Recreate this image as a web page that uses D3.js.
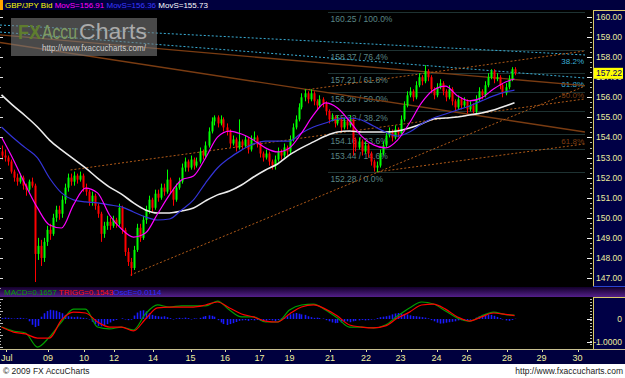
<!DOCTYPE html>
<html>
<head>
<meta charset="utf-8">
<script src="https://cdn.jsdelivr.net/npm/d3@7"></script>
<style>
body { margin: 0; background: #fff; }
svg { display: block; font-family: "Liberation Sans", Arial, sans-serif; }
</style>
</head>
<body>
<svg id="chart"></svg>
<script>
// GBP/JPY 2-hour bars, July 2009
const width = 625, height = 378;

// OHLC per bar: [open, high, low, close]
const ohlc = [
[153.3,153.6,152.9,153.1],[153.1,153.4,152.8,153.0],[153.0,153.1,152.6,152.8],[152.8,152.9,152.2,152.3],
[152.3,152.4,151.8,152.0],[152.0,152.2,151.6,151.8],[151.8,152.2,151.7,152.0],[152.0,152.1,151.4,151.6],
[151.6,151.7,151.1,151.4],[151.4,151.9,151.3,151.8],[151.8,152.0,151.5,151.6],[151.6,151.7,146.8,148.2],
[148.2,149.0,147.9,148.6],[148.6,148.9,147.6,148.0],[148.0,149.0,147.8,148.8],[148.8,149.6,148.6,149.4],
[149.4,149.7,148.9,149.2],[149.2,150.2,149.1,150.0],[150.0,150.6,149.8,150.4],[150.4,150.6,149.9,150.2],
[150.2,151.1,150.0,150.9],[150.9,151.7,150.7,151.5],[151.5,152.2,151.3,152.0],[152.0,152.2,151.6,151.8],
[151.8,152.3,151.6,152.1],[152.1,152.2,151.7,151.9],[151.9,152.3,151.8,152.1],[152.1,152.2,151.3,151.5],
[151.5,151.7,151.1,151.3],[151.3,151.4,150.6,150.8],[150.8,151.3,150.6,151.1],[151.1,151.2,150.4,150.6],
[150.6,150.7,150.0,150.2],[150.2,150.3,148.8,149.2],[149.2,149.8,149.0,149.6],[149.6,150.1,149.4,149.8],
[149.8,150.0,149.4,149.6],[149.6,150.1,149.5,149.9],[149.9,150.0,149.5,149.7],[149.7,150.7,149.6,150.5],
[150.5,150.6,149.2,149.4],[149.4,149.5,148.1,148.3],[148.3,148.5,147.6,147.8],[147.8,148.0,147.1,147.5],
[147.5,148.6,147.4,148.4],[148.4,149.7,148.3,149.5],[149.5,149.7,148.8,149.0],[149.0,150.1,148.9,149.9],
[149.9,150.6,149.7,150.4],[150.4,151.1,150.2,150.9],[150.9,151.0,150.3,150.5],[150.5,151.4,150.4,151.2],
[151.2,151.4,150.8,151.0],[151.0,151.7,150.9,151.5],[151.5,151.7,151.1,151.3],[151.3,152.4,151.2,151.9],
[151.9,152.0,151.2,151.4],[151.4,151.5,150.6,150.9],[150.9,151.7,150.8,151.5],[151.5,152.0,151.4,151.8],
[151.8,152.7,151.7,152.5],[152.5,153.0,152.3,152.8],[152.8,152.9,152.3,152.5],[152.5,153.1,152.4,152.9],
[152.9,153.0,152.4,152.6],[152.6,153.0,152.5,152.8],[152.8,153.5,152.7,153.3],[153.3,153.4,152.9,153.1],
[153.1,153.8,153.0,153.6],[153.6,154.5,153.5,154.3],[154.3,155.0,154.2,154.8],[154.8,155.1,154.6,155.0],
[155.0,155.1,154.5,154.7],[154.7,155.1,154.6,154.9],[154.9,155.0,154.3,154.5],[154.5,154.7,154.1,154.3],
[154.3,154.4,153.5,153.7],[153.7,154.1,153.6,153.9],[153.9,154.0,153.3,153.5],[153.5,154.9,153.4,153.8],
[153.8,153.9,153.4,153.6],[153.6,154.1,153.5,153.9],[153.9,154.0,153.2,153.4],[153.4,154.1,153.3,153.9],
[153.9,154.3,153.8,154.0],[154.0,154.1,153.5,153.7],[153.7,153.8,153.0,153.2],[153.2,153.3,152.8,153.0],
[153.0,153.4,152.9,153.2],[153.2,153.3,152.6,152.8],[152.8,152.9,152.4,152.6],[152.6,153.1,152.4,152.9],
[152.9,153.5,152.8,153.3],[153.3,153.4,152.9,153.1],[153.1,153.7,153.0,153.5],[153.5,153.6,153.1,153.3],
[153.3,154.1,153.2,153.9],[153.9,154.7,153.8,154.5],[154.5,155.1,154.4,154.9],[154.9,155.7,154.8,155.5],
[155.5,156.2,155.4,156.0],[156.0,156.4,155.8,156.2],[156.2,156.3,155.7,155.9],[155.9,156.4,155.8,156.2],
[156.2,156.3,155.6,155.8],[155.8,155.9,155.4,155.6],[155.6,156.1,155.5,155.9],[155.9,156.0,155.5,155.7],
[155.7,155.8,155.1,155.3],[155.3,155.4,154.7,154.9],[154.9,155.2,154.8,155.0],[155.0,155.1,154.5,154.7],
[154.7,155.1,154.6,154.9],[154.9,155.0,154.3,154.5],[154.5,155.0,154.4,154.8],[154.8,154.9,154.4,154.6],
[154.6,155.1,154.5,154.9],[154.9,155.0,153.1,153.9],[153.9,154.0,153.3,153.5],[153.5,154.0,153.4,153.8],
[153.8,153.9,153.1,153.3],[153.3,153.8,153.2,153.6],[153.6,153.7,153.0,153.2],[153.2,153.3,152.6,152.8],
[152.8,152.9,152.3,152.5],[152.5,152.8,152.28,152.6],[152.6,153.4,152.5,153.2],[153.2,153.8,153.1,153.6],
[153.6,154.3,153.5,154.1],[154.1,154.5,154.0,154.3],[154.3,154.4,153.8,154.0],[154.0,154.6,153.9,154.4],
[154.4,154.5,154.0,154.2],[154.2,155.1,154.1,154.9],[154.9,155.8,154.8,155.6],[155.6,156.3,155.5,156.1],
[156.1,156.5,156.0,156.3],[156.3,156.4,155.8,156.0],[156.0,156.8,155.9,156.6],[156.6,157.2,156.5,157.0],
[157.0,157.1,156.6,156.8],[156.8,157.6,156.7,157.3],[157.3,157.4,156.8,157.0],[157.0,157.1,156.2,156.4],
[156.4,156.5,155.9,156.1],[156.1,156.7,156.0,156.5],[156.5,156.9,156.4,156.7],[156.7,156.8,156.1,156.3],
[156.3,156.4,155.8,156.0],[156.0,156.6,155.9,156.4],[156.4,156.5,155.6,155.8],[155.8,155.9,155.3,155.5],
[155.5,156.1,155.4,155.9],[155.9,156.0,155.4,155.6],[155.6,156.0,155.5,155.8],[155.8,155.9,155.2,155.4],
[155.4,155.8,155.3,155.6],[155.6,155.7,155.2,155.3],[155.3,156.1,155.2,155.9],[155.9,156.5,155.8,156.3],
[156.3,156.4,155.9,156.1],[156.1,156.8,156.0,156.6],[156.6,157.2,156.5,157.0],[157.0,157.4,156.9,157.3],
[157.3,157.4,156.7,156.9],[156.9,157.2,156.8,157.0],[157.0,157.1,156.4,156.6],[156.6,156.7,156.0,156.2],
[156.2,156.7,156.1,156.5],[156.5,157.1,156.4,156.9],[156.9,157.5,156.8,157.4],[157.4,157.5,157.1,157.22]
];

// moving averages and MACD sampled every 4 bars (bar index list)
const sampleBars = [0,4,8,12,16,20,24,28,32,36,40,44,48,52,56,60,64,68,72,76,80,84,88,92,96,100,104,108,112,116,120,124,128,132,136,140,144,148,152,156,160,164,168,171];
const maFast = [154.02,152.88,151.63,150.49,149.64,149.49,150.64,151.48,151.24,150.14,149.44,149.04,149.24,150.19,151.14,151.88,152.08,152.98,154.02,154.32,154.17,153.87,153.48,153.28,153.48,154.22,155.12,155.72,155.47,154.82,154.07,153.63,153.48,153.87,154.72,155.72,156.36,156.56,156.07,155.82,155.97,156.41,156.76,156.91];
const maMid = [154.52,153.97,153.48,152.98,151.98,151.24,150.89,150.79,150.74,150.64,150.54,150.29,150.04,149.89,149.94,150.39,150.89,151.73,152.48,152.98,153.37,153.68,153.82,153.82,153.82,154.22,154.52,154.72,154.92,154.97,154.87,154.57,154.27,154.07,154.27,154.67,154.97,155.17,155.37,155.57,155.82,156.07,156.27,156.36];
const maSlow = [156.12,155.57,155.07,154.52,153.87,153.38,152.93,152.48,151.98,151.53,151.18,150.74,150.39,150.24,150.24,150.34,150.49,150.84,151.14,151.33,151.63,152.03,152.38,152.68,153.13,153.48,153.78,154.07,154.27,154.32,154.27,154.27,154.27,154.32,154.47,154.67,154.92,154.97,155.02,155.12,155.22,155.37,155.57,155.73];
const macd = [-0.35,-0.52,-0.61,-1.22,-0.78,-0.13,0.43,0.43,-0.35,-0.43,-0.35,-0.48,0.22,0.61,0.52,0.57,0.57,0.57,0.78,0.39,0.09,0.09,-0.13,-0.13,0.39,0.61,0.65,0.39,0.04,-0.35,-0.35,-0.39,-0.26,0.13,0.48,0.74,0.65,0.35,0.04,-0.09,0.13,0.30,0.19,0.17];
const trigg = [-0.35,-0.57,-0.65,-0.83,-0.83,-0.04,0.30,0.26,-0.13,-0.35,-0.35,-0.52,0.00,0.48,0.52,0.52,0.52,0.61,0.74,0.48,0.22,0.09,-0.09,-0.13,0.22,0.52,0.61,0.43,0.13,-0.26,-0.35,-0.39,-0.30,0.04,0.30,0.61,0.65,0.43,0.09,-0.09,0.09,0.26,0.20,0.15];

// oscillator histogram, one per bar
const osc = [0.04,0.06,0.05,0.03,0.02,0.04,0.05,0.03,0.02,
-0.10,-0.25,-0.35,-0.30,
0.10,0.25,0.35,0.40,0.38,0.36,0.30,0.25,0.18,0.12,
0.10,0.08,0.10,0.07,0.05,0.03,-0.02,
-0.12,-0.22,-0.30,-0.32,-0.28,-0.22,-0.15,-0.08,
-0.04,0.00,0.03,-0.02,-0.05,-0.03,
0.15,0.28,0.36,0.38,0.33,0.25,0.18,
0.14,0.12,0.10,0.12,0.08,0.04,-0.02,0.03,
0.05,0.03,0.06,0.04,-0.02,0.03,0.02,0.05,
0.10,0.13,0.16,0.14,0.10,
-0.05,-0.15,-0.22,-0.26,-0.22,-0.18,-0.13,-0.08,
-0.06,-0.05,-0.08,-0.04,-0.06,-0.04,-0.08,
-0.10,-0.07,-0.04,-0.06,-0.10,-0.05,0.02,0.05,
0.12,0.20,0.24,0.26,0.23,0.20,0.18,0.12,0.08,0.05,
0.06,0.04,0.02,-0.05,-0.10,-0.15,
-0.18,-0.17,-0.15,-0.12,-0.10,-0.14,-0.10,
-0.08,-0.06,-0.04,-0.06,-0.05,-0.03,-0.02,
0.04,0.08,0.10,0.12,0.15,0.20,0.24,0.26,0.25,
0.22,0.20,0.16,0.13,0.12,0.10,0.08,0.06,0.03,
-0.05,-0.10,-0.16,-0.20,-0.19,-0.16,-0.14,-0.12,-0.10,-0.06,
-0.05,-0.08,-0.06,-0.03,0.00,
0.06,0.12,0.18,0.22,0.20,0.18,0.14,0.09,
0.04,-0.02,-0.06,-0.08,-0.04,0.01];

// fibonacci retracement (from the bar where it is drawn)
const fibStartBar = 109;
const fibPrices = [160.25,158.37,157.21,156.26,155.32,154.16,153.44,152.28];
const fibPcts = ["100.0%","76.4%","61.8%","50.0%","38.2%","23.6%","14.6%","0.0%"];

// fan lines: [bar1, price1, bar2, price2, label]
const cyanFan = [[-0.5,159.60,194.5,158.11,"38.2%"],[-0.5,159.25,194.5,156.96,"61.8%"]];
const brownFan = [[-0.5,159.11,194.5,156.58,"50.0%"],[-0.5,158.73,194.5,154.27,"61.8%"]];
// channel lines (dotted orange)
const channels = [[23,152.38,194.5,155.92],[101,156.36,194.5,158.31],[43,147.15,194.5,156.56],[125,152.28,194.5,153.68]];

const priceTicks = [160,159,158,157,156,155,154,153,152,151,150,149,148,147];
const dateLabels = ["Jul","09","10","12","14","15","16","17","19","21","22","23","24","26","28","29","30"];
const dateBars = [1.5,15.5,27.5,37.5,50.5,63,74.5,86,96,109.5,121.5,133,145,155,168.5,180,192];
const macdTicks = [0,-1];
const macdTickLabels = ["0","-1.0000"];
const lastPrice = 157.22;

const svg = d3.select("#chart").attr("width", width).attr("height", height);

const plotR = 585, axisX = 593;
const x = d3.scaleLinear().domain([-0.5, 194.5]).range([0, plotR]);
const y = d3.scaleLinear().domain([147, 160]).range([278, 17]);
const ym = d3.scaleLinear().domain([-1, 0]).range([342, 319]);

const defs = svg.append("defs");
defs.append("clipPath").attr("id", "mainClip").append("rect")
    .attr("x", 0).attr("y", 10).attr("width", plotR).attr("height", 277);
defs.append("clipPath").attr("id", "macdClip").append("rect")
    .attr("x", 0).attr("y", 297).attr("width", plotR).attr("height", 52);
const grad = defs.append("linearGradient").attr("id", "band").attr("x1", 0).attr("y1", 0).attr("x2", 0).attr("y2", 1);
grad.append("stop").attr("offset", "0%").attr("stop-color", "#12002a");
grad.append("stop").attr("offset", "100%").attr("stop-color", "#54208a");

// backgrounds
svg.append("rect").attr("width", width).attr("height", height).attr("fill", "#000");
svg.append("rect").attr("x", 0).attr("y", 0).attr("width", width).attr("height", 10).attr("fill", "#00003e");
svg.append("rect").attr("x", 0).attr("y", 0).attr("width", 3).attr("height", 10).attr("fill", "#ffa500");
svg.append("rect").attr("x", 0).attr("y", 287).attr("width", width).attr("height", 10).attr("fill", "url(#band)");
svg.append("rect").attr("x", 0).attr("y", 349).attr("width", width).attr("height", 15).attr("fill", "#00003e");
svg.append("line").attr("x1", 0).attr("x2", width).attr("y1", 349.5).attr("y2", 349.5).attr("stroke", "#c8c090");
svg.append("rect").attr("x", 0).attr("y", 364).attr("width", width).attr("height", 14).attr("fill", "#fff");

// header text
const head = svg.append("text").attr("x", 5).attr("y", 8).attr("font-size", 8);
head.append("tspan").attr("fill", "#ffff00").text("GBP/JPY Bid ");
head.append("tspan").attr("fill", "#ff00ff").text("MovS=" + maFast[maFast.length - 1].toFixed(2) + " ");
head.append("tspan").attr("fill", "#3a3aff").text("MovS=" + maMid[maMid.length - 1].toFixed(2) + " ");
head.append("tspan").attr("fill", "#ffffff").text("MovS=" + maSlow[maSlow.length - 1].toFixed(2));

const main = svg.append("g").attr("clip-path", "url(#mainClip)");

// fibonacci levels
fibPrices.forEach((p, k) => {
    main.append("line")
        .attr("x1", x(fibStartBar)).attr("x2", plotR)
        .attr("y1", Math.round(y(p)) + 0.5).attr("y2", Math.round(y(p)) + 0.5)
        .attr("stroke", "#3c6464").attr("stroke-dasharray", "1,1");
    main.append("text")
        .attr("x", x(fibStartBar) + 2).attr("y", y(p) + 10)
        .attr("font-size", 8.5).attr("fill", "#5a8686")
        .text(p.toFixed(2) + " / " + fibPcts[k]);
});

// fan and channel lines
function drawLines(list, color, dash, w, labelDy) {
    list.forEach(d => {
        main.append("line")
            .attr("x1", x(d[0])).attr("y1", y(d[1]))
            .attr("x2", x(d[2])).attr("y2", y(d[3]))
            .attr("stroke", color).attr("stroke-width", w)
            .attr("stroke-dasharray", dash);
        if (labelDy) {
            main.append("text")
                .attr("x", plotR - 1).attr("y", y(d[3]) + labelDy)
                .attr("text-anchor", "end").attr("font-size", 8)
                .attr("fill", color).text(d[4]);
        }
    });
}
drawLines(cyanFan, "#3aaed6", "2,2", 1, 9);
drawLines(brownFan, "#7a3c12", null, 1.4, 12);
drawLines(channels, "#b05a18", "2,2", 1, 0);

// candles
const candles = ohlc.map((d, i) => ({ i, o: d[0], h: d[1], l: d[2], c: d[3] }));
const cg = main.append("g");
cg.selectAll("line.wick").data(candles).enter().append("line")
    .attr("class", "wick")
    .attr("x1", d => Math.round(x(d.i)) + 0.5).attr("x2", d => Math.round(x(d.i)) + 0.5)
    .attr("y1", d => y(d.h)).attr("y2", d => y(d.l))
    .attr("stroke", d => d.c >= d.o ? "#00ff00" : "#ff0000");
cg.selectAll("rect.body").data(candles).enter().append("rect")
    .attr("class", "body")
    .attr("x", d => Math.round(x(d.i)) - 0.5).attr("width", 2)
    .attr("y", d => y(Math.max(d.o, d.c)))
    .attr("height", d => Math.max(1, Math.abs(y(d.o) - y(d.c))))
    .attr("fill", d => d.c >= d.o ? "#00ff00" : "#ff0000");

// moving averages
const maLine = d3.line().x((d, k) => x(sampleBars[k])).y(d => y(d)).curve(d3.curveMonotoneX);
main.append("path").datum(maSlow).attr("d", maLine).attr("fill", "none").attr("stroke", "#ececec").attr("stroke-width", 1.6);
main.append("path").datum(maMid).attr("d", maLine).attr("fill", "none").attr("stroke", "#3434d8").attr("stroke-width", 1.2);
main.append("path").datum(maFast).attr("d", maLine).attr("fill", "none").attr("stroke", "#ff00ff").attr("stroke-width", 1.2);

// watermark
const wm = svg.append("g");
wm.append("rect").attr("x", 11).attr("y", 18).attr("width", 146).attr("height", 38)
    .attr("fill", "#7a7a7a").attr("opacity", 0.6);
wm.append("text").attr("x", 18).attr("y", 39).attr("font-size", 21).attr("font-weight", "bold")
    .attr("fill", "#5f7d2e").attr("textLength", 23).attr("lengthAdjust", "spacingAndGlyphs").text("FX");
wm.append("text").attr("x", 42).attr("y", 39).attr("font-size", 21)
    .attr("fill", "#7f9b62").attr("textLength", 35).attr("lengthAdjust", "spacingAndGlyphs").text("Accu");
wm.append("text").attr("x", 79).attr("y", 39).attr("font-size", 22)
    .attr("fill", "#aaaaaa").attr("textLength", 68).attr("lengthAdjust", "spacingAndGlyphs").text("Charts");
wm.append("text").attr("x", 42).attr("y", 51).attr("font-size", 8.5)
    .attr("fill", "#d0d0d0").attr("textLength", 104).attr("lengthAdjust", "spacingAndGlyphs").text("http://www.fxaccucharts.com/");

// left edge ticks
priceTicks.forEach(p => {
    svg.append("line").attr("x1", 0).attr("x2", 3).attr("y1", Math.round(y(p)) + 0.5).attr("y2", Math.round(y(p)) + 0.5)
        .attr("stroke", "#ddd");
    svg.append("line").attr("x1", 0).attr("x2", 1).attr("y1", Math.round(y(p - 0.5)) + 0.5).attr("y2", Math.round(y(p - 0.5)) + 0.5)
        .attr("stroke", "#999");
});

// right price axis
svg.append("rect").attr("x", axisX).attr("y", 10).attr("width", width - axisX).attr("height", 277).attr("fill", "#000046");
svg.append("line").attr("x1", axisX).attr("x2", width).attr("y1", 10.5).attr("y2", 10.5).attr("stroke", "#d8c868");
svg.append("line").attr("x1", axisX + 0.5).attr("x2", axisX + 0.5).attr("y1", 10).attr("y2", 287).attr("stroke", "#d8c868");
svg.append("line").attr("x1", axisX).attr("x2", width).attr("y1", 286.5).attr("y2", 286.5).attr("stroke", "#2a44d0");
svg.selectAll(".minorTick").data(d3.range(147, 160.01, 0.25)).enter().append("line")
    .attr("x1", axisX - 3).attr("x2", axisX - 1)
    .attr("y1", d => Math.round(y(d)) + 0.5).attr("y2", d => Math.round(y(d)) + 0.5)
    .attr("stroke", "#bbb");
svg.selectAll(".priceTick").data(priceTicks).enter().append("line")
    .attr("x1", axisX - 6).attr("x2", axisX - 1)
    .attr("y1", d => Math.round(y(d)) + 0.5).attr("y2", d => Math.round(y(d)) + 0.5)
    .attr("stroke", "#eee");
svg.selectAll(".priceLabel").data(priceTicks).enter().append("text")
    .attr("x", 622).attr("y", d => y(d) + 3)
    .attr("text-anchor", "end").attr("font-size", 8.5).attr("fill", "#ecec9c")
    .text(d => d.toFixed(2));

// last price marker
svg.append("rect").attr("x", axisX + 1).attr("y", y(lastPrice) - 5).attr("width", 29).attr("height", 11).attr("fill", "#ffff00");
svg.append("text").attr("x", 622).attr("y", y(lastPrice) + 3.5).attr("text-anchor", "end")
    .attr("font-size", 8.5).attr("fill", "#000060").text(lastPrice.toFixed(2));

// MACD legend
const ml = svg.append("text").attr("x", 4).attr("y", 295).attr("font-size", 8);
ml.append("tspan").attr("fill", "#00a000").text("MACD=0.1657 ");
ml.append("tspan").attr("fill", "#ff1010").text("TRIGG=0.1543");
ml.append("tspan").attr("fill", "#2a2aff").text("OscE=0.0114");

// MACD panel
const mp = svg.append("g").attr("clip-path", "url(#macdClip)");
mp.selectAll("line.osc").data(osc).enter().append("line")
    .attr("x1", (d, i) => Math.round(x(i)) + 0.5).attr("x2", (d, i) => Math.round(x(i)) + 0.5)
    .attr("y1", ym(0)).attr("y2", d => ym(d))
    .attr("stroke", "#1a1aff").attr("stroke-width", 1.6);
const macdLine = d3.line().x((d, k) => x(sampleBars[k])).y(d => ym(d)).curve(d3.curveMonotoneX);
mp.append("path").datum(macd).attr("d", macdLine).attr("fill", "none").attr("stroke", "#00a000").attr("stroke-width", 1.2);
mp.append("path").datum(trigg).attr("d", macdLine).attr("fill", "none").attr("stroke", "#ff0000").attr("stroke-width", 1.2);

for (let k = 0; k < 17; k++) {
    svg.append("line").attr("x1", 0).attr("x2", 1 + (k % 4 === 0 ? 2 : 0))
        .attr("y1", 299.5 + k * 3).attr("y2", 299.5 + k * 3).attr("stroke", "#bbb");
}

svg.append("rect").attr("x", axisX).attr("y", 297).attr("width", width - axisX).attr("height", 52).attr("fill", "#000046");
svg.append("line").attr("x1", axisX).attr("x2", width).attr("y1", 297.5).attr("y2", 297.5).attr("stroke", "#d8c868");
svg.append("line").attr("x1", axisX + 0.5).attr("x2", axisX + 0.5).attr("y1", 297).attr("y2", 349).attr("stroke", "#d8c868");
for (let k = 0; k < 16; k++) {
    svg.append("line").attr("x1", axisX - 3).attr("x2", axisX - 1)
        .attr("y1", 299.5 + k * 3).attr("y2", 299.5 + k * 3).attr("stroke", "#bbb");
}
svg.selectAll(".macdTick").data(macdTicks).enter().append("line")
    .attr("x1", axisX - 6).attr("x2", axisX - 1)
    .attr("y1", d => Math.round(ym(d)) + 0.5).attr("y2", d => Math.round(ym(d)) + 0.5)
    .attr("stroke", "#eee");
svg.selectAll(".macdLabel").data(macdTicks).enter().append("text")
    .attr("x", 622).attr("y", d => ym(d) + 3)
    .attr("text-anchor", "end").attr("font-size", 8.5).attr("fill", "#ecec9c")
    .text((d, k) => macdTickLabels[k]);

// date axis
svg.selectAll(".dateTick").data(dateBars).enter().append("line")
    .attr("x1", d => Math.round(x(d)) + 0.5).attr("x2", d => Math.round(x(d)) + 0.5)
    .attr("y1", 350).attr("y2", 352).attr("stroke", "#e0e0a0");
svg.selectAll(".dateLabel").data(dateLabels).enter().append("text")
    .attr("x", (d, k) => k === 0 ? 1 : x(dateBars[k]))
    .attr("y", 361).attr("font-size", 9)
    .attr("text-anchor", (d, k) => k === 0 ? "start" : "middle")
    .attr("fill", "#f0f0a0").text(d => d);

// footer
svg.append("text").attr("x", 3).attr("y", 374).attr("font-size", 8.5).attr("fill", "#222").text("© 2009 FX AccuCharts");
svg.append("text").attr("x", 623).attr("y", 374).attr("font-size", 8.5).attr("text-anchor", "end").attr("fill", "#222").text("http://www.fxaccucharts.com");
</script>
</body>
</html>
